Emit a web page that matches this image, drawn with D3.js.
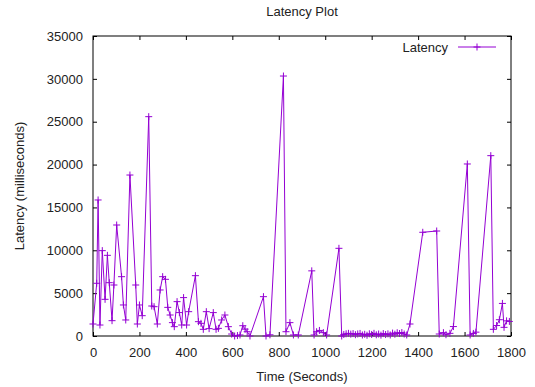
<!DOCTYPE html>
<html>
<head>
<meta charset="utf-8">
<script src="https://cdn.jsdelivr.net/npm/d3@7"></script>
<style>
  body { margin: 0; background: #fff; }
  text { font-family: "Liberation Sans", Arial, sans-serif; fill: #222; }
</style>
</head>
<body>
<svg id="chart" width="535" height="387"></svg>
<script>
// sample times (seconds) and latency (ms)
const times = [0, 16, 22, 30, 40, 52, 62, 70, 82, 90, 102, 123, 131, 141, 159, 184, 191, 200, 212, 240,
  253, 263, 277, 289, 300, 312, 322, 332, 342, 350, 362, 372, 382, 390, 403, 412, 441, 454, 465, 475,
  488, 500, 518, 530, 540, 554, 568, 583, 597, 610, 622, 633, 645, 655, 664, 676, 734, 745, 762, 820,
  831, 848, 863, 884, 942, 952, 963, 975, 992, 1006, 1059, 1071,
  1080, 1090, 1100, 1110, 1120, 1130, 1140, 1150, 1160, 1170, 1180, 1190, 1200, 1210, 1220, 1230,
  1240, 1250, 1260, 1270, 1280, 1290, 1300, 1310, 1320, 1330, 1340,
  1351, 1365, 1420, 1480, 1491, 1509, 1520, 1537, 1552, 1612, 1624, 1638, 1649, 1713, 1724, 1738,
  1750, 1763, 1770, 1781, 1793];
const latency = [1400, 6150, 15870, 1280, 9960, 4280, 9410, 6220, 1790, 5950, 12950, 6920, 3620, 1870, 18780, 5950, 1400, 3620, 2370, 25590,
  3500, 3420, 1400, 5370, 6920, 6610, 3340, 2450, 1560, 1090, 4010, 2730, 1280, 4480, 1280, 2840, 7040, 1670, 1480, 780,
  2840, 860, 2730, 780, 890, 1870, 2450, 1090, 230, 0, 50, 120, 1200, 800, 500, 0, 4590, 0, 140, 30330,
  500, 1560, 120, 120, 7600, 120, 500, 650, 390, 120, 10230, 0,
  180, 260, 310, 220, 280, 150, 240, 300, 120, 200, 90, 260, 180, 310, 140, 230,
  100, 280, 170, 250, 120, 340, 210, 380, 290, 400, 230,
  120, 1400, 12100, 12250, 230, 390, 150, 310, 1100, 20070, 120, 300, 450, 21040, 780, 1220,
  1900, 3800, 1010, 1770, 1700];

const xTicks = d3.range(0, 1801, 200);
const yTicks = d3.range(0, 35001, 5000);
const color = "#9400d3";

const svg = d3.select("#chart");
const mLeft = 93, mRight = 511, mTop = 36, mBottom = 336;

const x = d3.scaleLinear().domain([0, 1800]).range([mLeft, mRight]);
const y = d3.scaleLinear().domain([0, 35000]).range([mBottom, mTop]);

// axes, gnuplot style: ticks inward, mirrored on top/right
const tk = 4;
svg.append("g").attr("transform", `translate(0,${mBottom})`)
  .call(d3.axisBottom(x).tickValues(xTicks).tickSize(-tk).tickPadding(12).tickFormat(d3.format("d")));
svg.append("g").attr("transform", `translate(0,${mTop})`)
  .call(d3.axisTop(x).tickValues(xTicks).tickSize(-tk).tickFormat(""));
svg.append("g").attr("transform", `translate(${mLeft},0)`)
  .call(d3.axisLeft(y).tickValues(yTicks).tickSize(-tk).tickPadding(10).tickFormat(d3.format("d")));
svg.append("g").attr("transform", `translate(${mRight},0)`)
  .call(d3.axisRight(y).tickValues(yTicks).tickSize(-tk).tickFormat(""));

svg.selectAll(".domain").remove();
svg.selectAll(".tick line").attr("stroke", "#000");
svg.selectAll(".tick text").style("font-size", "13px").attr("fill", "#222");

svg.append("rect")
  .attr("x", mLeft).attr("y", mTop)
  .attr("width", mRight - mLeft).attr("height", mBottom - mTop)
  .attr("fill", "none").attr("stroke", "#000").attr("stroke-width", 1);

const data = times.map((t, i) => ({ t: t, v: latency[i] }));

const line = d3.line().x(d => x(d.t)).y(d => y(d.v));
svg.append("path")
  .datum(data)
  .attr("d", line)
  .attr("fill", "none")
  .attr("stroke", color)
  .attr("stroke-width", 1);

const plus = (g, px, py) => {
  g.append("path")
    .attr("d", `M${px - 3.5},${py}H${px + 3.5}M${px},${py - 3.5}V${py + 3.5}`)
    .attr("stroke", color).attr("stroke-width", 1).attr("fill", "none");
};
const pts = svg.append("g");
data.forEach(d => plus(pts, x(d.t), y(d.v)));

// legend
svg.append("text").attr("x", 448).attr("y", 52)
  .attr("text-anchor", "end").style("font-size", "13px").text("Latency");
svg.append("line").attr("x1", 458).attr("x2", 496).attr("y1", 47).attr("y2", 47)
  .attr("stroke", color).attr("stroke-width", 1);
plus(svg, 477, 47);

// titles
svg.append("text").attr("x", (mLeft + mRight) / 2).attr("y", 16)
  .attr("text-anchor", "middle").style("font-size", "13px").text("Latency Plot");
svg.append("text").attr("x", (mLeft + mRight) / 2).attr("y", 381)
  .attr("text-anchor", "middle").style("font-size", "13px").text("Time (Seconds)");
svg.append("text")
  .attr("transform", `translate(24,${(mTop + mBottom) / 2}) rotate(-90)`)
  .attr("text-anchor", "middle").style("font-size", "13px").text("Latency (milliseconds)");
</script>
</body>
</html>
